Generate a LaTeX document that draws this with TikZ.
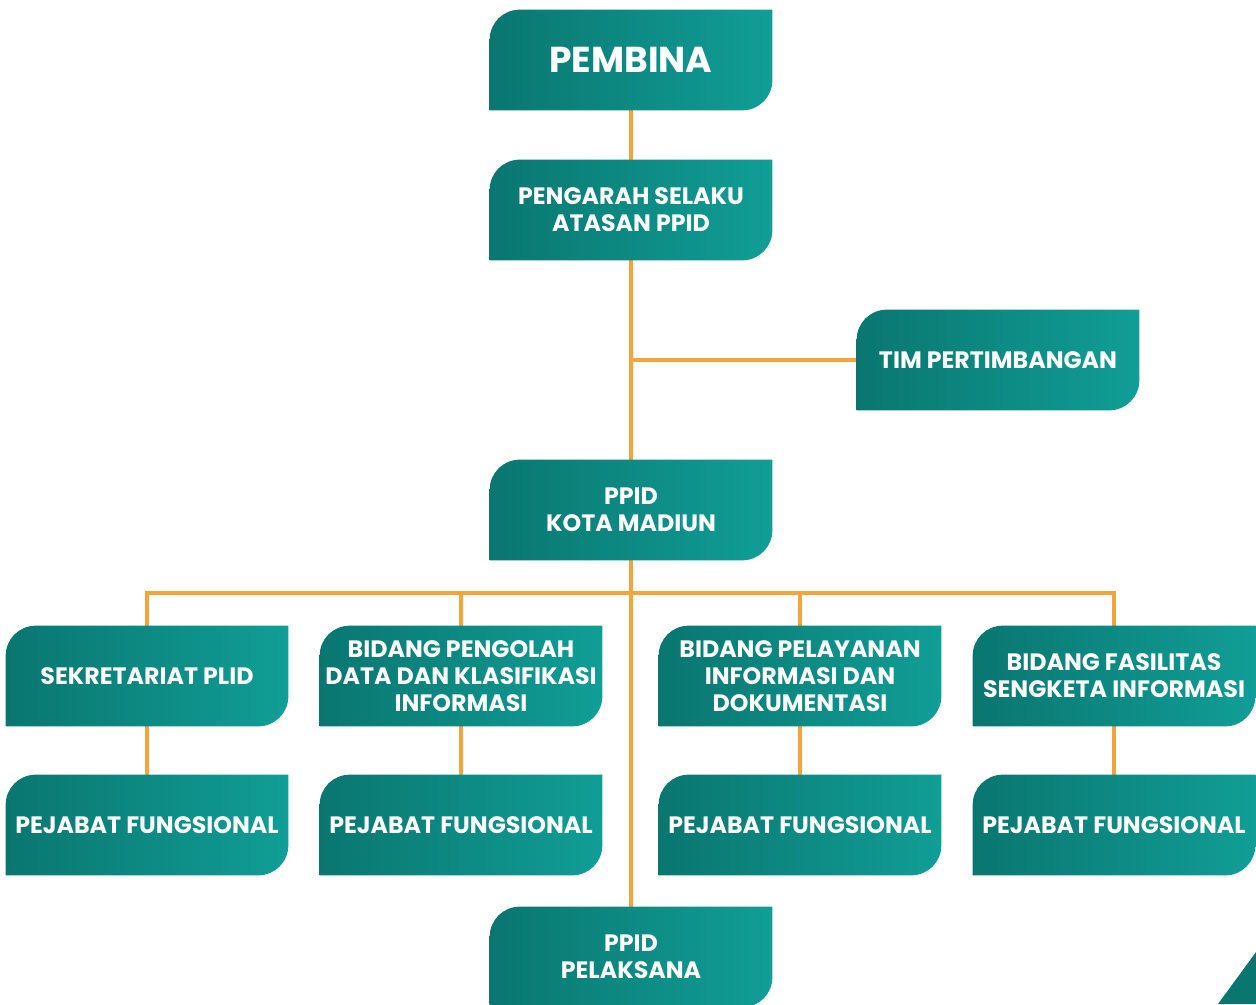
\documentclass[tikz,border=0pt]{standalone}
\usepackage{fontspec}
\setmainfont{Poppins}
\usetikzlibrary{backgrounds}

\definecolor{TealDark}{RGB}{10,118,112}
\definecolor{TealLight}{RGB}{16,158,150}
\definecolor{LinkOrange}{RGB}{244,164,58}

\tikzset{
  orgbox/.style={minimum width=5.64cm, minimum height=2cm, inner sep=0pt,
    text=white, align=center, font=\bfseries\fontsize{13.5}{15.5}\selectfont},
  link/.style={draw=LinkOrange, line width=2.3pt}
}

\begin{document}
\begin{tikzpicture}[x=0.02cm, y=0.02cm]
      % Define the corner radius of the boxes
      \def\BoxRadius{0.6cm}

      \useasboundingbox (0,0) rectangle (1256,-1004);

      % Draw the boxes
      \node[orgbox, font=\bfseries\fontsize{20.5}{24}\selectfont] (pembina) at (631,-60) {PEMBINA};
      \node[orgbox] (pengarah) at (631,-210) {PENGARAH SELAKU\\ATASAN PPID};
      \node[orgbox] (tim) at (998,-360) {TIM PERTIMBANGAN};
      \node[orgbox] (kota) at (631,-510) {PPID\\KOTA MADIUN};

      \node[orgbox] (sekretariat) at (147,-676) {SEKRETARIAT PLID};
      \node[orgbox] (pengolah) at (461,-676) {BIDANG PENGOLAH\\DATA DAN KLASIFIKASI\\INFORMASI};
      \node[orgbox] (pelayanan) at (800,-676) {BIDANG PELAYANAN\\INFORMASI DAN\\DOKUMENTASI};
      \node[orgbox] (fasilitas) at (1114,-676) {BIDANG FASILITAS\\SENGKETA INFORMASI};

      \node[orgbox] (fungsionalA) at (147,-825) {PEJABAT FUNGSIONAL};
      \node[orgbox] (fungsionalB) at (461,-825) {PEJABAT FUNGSIONAL};
      \node[orgbox] (fungsionalC) at (800,-825) {PEJABAT FUNGSIONAL};
      \node[orgbox] (fungsionalD) at (1114,-825) {PEJABAT FUNGSIONAL};

      \node[orgbox] (pelaksana) at (631,-957) {PPID\\PELAKSANA};

      \coordinate (bus) at (631,-593);

      \begin{scope}[on background layer]
        % Draw the connectors
        \draw[link] (pembina) -- (pengarah);
        \draw[link] (pengarah) -- (kota);
        \draw[link] (kota) -- (pelaksana);
        \draw[link] (tim.west) -- (tim.west -| pengarah.south);
        \draw[link] (sekretariat.north) -- (sekretariat.north |- bus) -- (fasilitas.north |- bus) -- (fasilitas.north);
        \foreach \n in {pengolah,pelayanan}
          \draw[link] (\n.north) -- (\n.north |- bus);
        \draw[link] (sekretariat) -- (fungsionalA);
        \draw[link] (pengolah) -- (fungsionalB);
        \draw[link] (pelayanan) -- (fungsionalC);
        \draw[link] (fasilitas) -- (fungsionalD);

        % Draw the box shapes
        \foreach \n in {pembina,pengarah,tim,kota,sekretariat,pengolah,pelayanan,fasilitas,
                        fungsionalA,fungsionalB,fungsionalC,fungsionalD,pelaksana}
          \shade[left color=TealDark, right color=TealLight]
            (\n.north east) -- ([yshift=\BoxRadius]\n.south east)
            arc[start angle=0, end angle=-90, radius=\BoxRadius]
            -- (\n.south west) -- ([yshift=-\BoxRadius]\n.north west)
            arc[start angle=180, end angle=90, radius=\BoxRadius] -- cycle;
      \end{scope}

      % Corner mark
      \fill[TealDark] (1218,-1004) -- (1256,-952) -- (1256,-1004) -- cycle;
\end{tikzpicture}
\end{document}
